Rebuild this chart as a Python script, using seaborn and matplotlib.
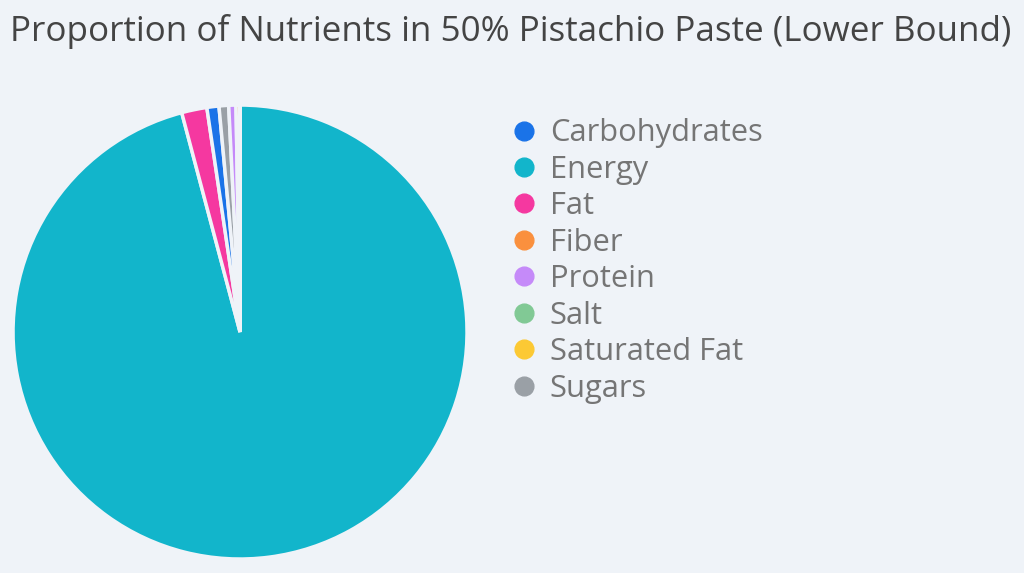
import matplotlib
matplotlib.use('Agg')
import matplotlib.pyplot as plt
from matplotlib.lines import Line2D
import seaborn as sns

# ── DATA ────────────────────────────────────────────────────────────────────
nutrients = ['Carbohydrates', 'Energy', 'Fat', 'Fiber', 'Protein', 'Salt', 'Saturated Fat', 'Sugars']
values = [5.0, 560.0, 10.5, 1.5, 3.0, 0.05, 0.1, 4.0]
colors = ['#1a73e8', '#12b5cb', '#f538a0', '#fa903e', '#c58af9', '#81c995', '#fcc934', '#9aa0a6']

BG = '#eff3f8'

sns.set_theme(style='white')
plt.rcParams['font.family'] = ['Open Sans', 'DejaVu Sans']

fig = plt.figure(figsize=(10.24, 5.73), dpi=100)
fig.patch.set_facecolor(BG)

# pie: slices sorted largest first, clockwise from 12 o'clock
order = sorted(range(len(values)), key=lambda i: -values[i])
ax = fig.add_axes([0.0127, 0.0244, 0.4434, 0.7923])
ax.set_facecolor(BG)
ax.pie([values[i] for i in order], colors=[colors[i] for i in order],
       startangle=90, counterclock=False,
       wedgeprops=dict(edgecolor=BG, linewidth=2.5))
ax.set_xlim(-1.0, 1.0)
ax.set_ylim(-1.0, 1.0)

fig.text(0.010, 0.945, 'Proportion of Nutrients in 50% Pistachio Paste (Lower Bound)',
         fontsize=25.2, color='#444444', ha='left', va='center')

handles = [Line2D([0], [0], marker='o', linestyle='', markersize=13.5,
                  markerfacecolor=c, markeredgecolor=c) for c in colors]
leg = fig.legend(handles, nutrients, loc='upper left', bbox_to_anchor=(0.485, 0.815),
                 frameon=False, fontsize=22.2, labelspacing=0.21, handletextpad=0.32,
                 handlelength=1.0, borderaxespad=0)
for t in leg.get_texts():
    t.set_color('#757575')

fig.savefig('out.png', dpi=100, facecolor=BG)
